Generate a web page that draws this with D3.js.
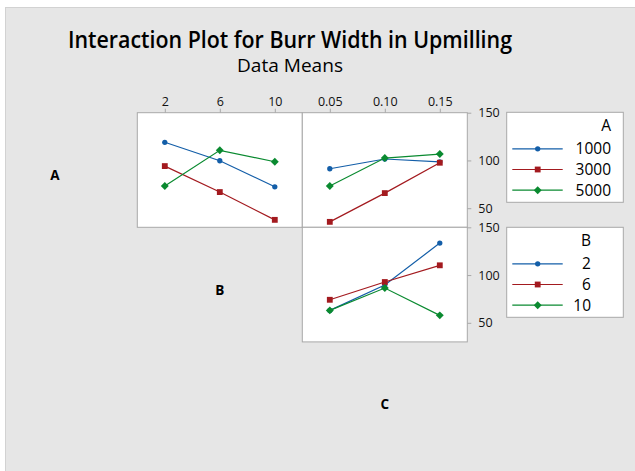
<!DOCTYPE html>
<html>
<head>
<meta charset="utf-8">
<script src="https://cdn.jsdelivr.net/npm/d3@7"></script>
<style>
  body { margin: 0; background: #fff; }
  text { font-family: "Open Sans", "Noto Sans", sans-serif; }
</style>
</head>
<body>
<svg width="635" height="471"></svg>
<script>
// factor levels
var levelsA = [1000, 3000, 5000];
var levelsB = [2, 6, 10];
var levelsC = [0.05, 0.10, 0.15];
var tickB = ['2', '6', '10'];
var tickC = ['0.05', '0.10', '0.15'];
var yTicks = [50, 100, 150];

// means (rows = series level, cols = x level)
var meansAB = [[119.0, 99.7, 72.4], [94.1, 66.9, 37.8], [73.2, 110.6, 98.6]];
var meansAC = [[91.3, 101.5, 98.6], [35.7, 65.8, 97.6], [73.2, 102.5, 106.7]];
var meansBC = [[63.0, 89.5, 133.5], [74.1, 92.7, 110.2], [63.0, 86.4, 57.8]];

var colors = ['#135ea8', '#a31a1f', '#0a8a30'];
var shapes = [d3.symbolCircle, d3.symbolSquare, d3.symbolDiamond2];
var sizes = [22, 34, 40];

var svg = d3.select('svg');

// background
svg.append('rect')
  .attr('x', 5.5).attr('y', 7.5).attr('width', 640).attr('height', 470)
  .attr('fill', '#e6e6e6').attr('stroke', '#d2d2d2');

svg.append('text')
  .attr('x', 290).attr('y', 48)
  .attr('text-anchor', 'middle')
  .style('font-size', '24px').style('font-weight', '600')
  .attr('textLength', 444).attr('lengthAdjust', 'spacingAndGlyphs')
  .text('Interaction Plot for Burr Width in Upmilling');

svg.append('text')
  .attr('x', 290).attr('y', 72)
  .attr('text-anchor', 'middle')
  .style('font-size', '17.5px')
  .attr('textLength', 106).attr('lengthAdjust', 'spacingAndGlyphs')
  .text('Data Means');

var cellW = 165, cellH = 114.6;
var colX = [-27.7, 137.3, 302.3];
var rowY = [112.7, 227.3, 341.9];

var xB = d3.scaleLinear().domain([0, 12]).range([0, cellW]);
var xC = d3.scaleLinear().domain([0.025, 0.175]).range([0, cellW]);
var y = d3.scaleLinear().domain([30, 150]).range([cellH, 0]);

var panels = [
  {row: 0, col: 1, x: xB, levels: levelsB, data: meansAB},
  {row: 0, col: 2, x: xC, levels: levelsC, data: meansAC},
  {row: 1, col: 2, x: xC, levels: levelsC, data: meansBC}
];

panels.forEach(function(p) {
  var g = svg.append('g')
    .attr('transform', 'translate(' + colX[p.col] + ',' + rowY[p.row] + ')');
  g.append('rect')
    .attr('width', cellW).attr('height', cellH)
    .attr('fill', '#fff').attr('stroke', '#a8a8a8');

  var line = d3.line()
    .x(function(d, i) { return p.x(p.levels[i]); })
    .y(function(d) { return y(d); });

  p.data.forEach(function(vals, s) {
    g.append('path')
      .attr('d', line(vals))
      .attr('fill', 'none')
      .attr('stroke', colors[s])
      .attr('stroke-width', 1.2);
    g.selectAll('.m' + s)
      .data(vals).enter()
      .append('path')
      .attr('transform', function(d, i) {
        return 'translate(' + p.x(p.levels[i]) + ',' + y(d) + ')';
      })
      .attr('d', d3.symbol().type(shapes[s]).size(sizes[s]))
      .attr('fill', colors[s]);
  });

  // top axis only for top row
  if (p.row === 0) {
    var ax = d3.axisTop(p.x).tickValues(p.levels).tickSize(4).tickPadding(3)
      .tickFormat(function(d, i) { return p.col === 1 ? tickB[i] : tickC[i]; });
    var ga = g.append('g').call(ax);
    ga.select('.domain').remove();
    ga.selectAll('line').attr('stroke', '#a8a8a8');
    ga.selectAll('text').style('font-size', '12.5px').attr('fill', '#111')
      .style('font-family', '"Open Sans", sans-serif');
  }

  // right axis for last column
  if (p.col === 2) {
    var ay = d3.axisRight(y).tickValues(yTicks).tickSize(4).tickPadding(7);
    var gy = g.append('g').attr('transform', 'translate(' + cellW + ',0)').call(ay);
    gy.select('.domain').remove();
    gy.selectAll('line').attr('stroke', '#a8a8a8');
    gy.selectAll('text').style('font-size', '12.5px').attr('fill', '#111')
      .style('font-family', '"Open Sans", sans-serif');
  }
});

// diagonal factor labels
['A', 'B', 'C'].forEach(function(name, i) {
  svg.append('text')
    .attr('x', colX[i] + cellW / 2)
    .attr('y', rowY[i] + cellH / 2 + 10)
    .attr('text-anchor', 'middle')
    .style('font-size', '13.5px').style('font-weight', 'bold')
    .text(name);
});

// legends
var legends = [
  {title: 'A', labels: levelsA.map(String), y0: 112.3, textX: 611},
  {title: 'B', labels: tickB, y0: 227.3, textX: 591}
];

legends.forEach(function(L) {
  var g = svg.append('g').attr('transform', 'translate(506.7,' + L.y0 + ')');
  g.append('rect')
    .attr('width', 116.6).attr('height', 90)
    .attr('fill', '#fff').attr('stroke', '#a8a8a8');
  g.append('text')
    .attr('x', L.textX - 506.7).attr('y', 19)
    .attr('text-anchor', 'end')
    .style('font-size', '15.5px')
    .text(L.title);
  L.labels.forEach(function(lab, i) {
    var yy = 36.5 + i * 20.7;
    g.append('line')
      .attr('x1', 5.6).attr('x2', 56).attr('y1', yy).attr('y2', yy)
      .attr('stroke', colors[i]).attr('stroke-width', 1.2);
    g.append('path')
      .attr('transform', 'translate(31,' + yy + ')')
      .attr('d', d3.symbol().type(shapes[i]).size(sizes[i]))
      .attr('fill', colors[i]);
    g.append('text')
      .attr('x', L.textX - 506.7).attr('y', yy + 5.5)
      .attr('text-anchor', 'end')
      .style('font-size', '15.5px')
      .text(lab);
  });
});
</script>
</body>
</html>
